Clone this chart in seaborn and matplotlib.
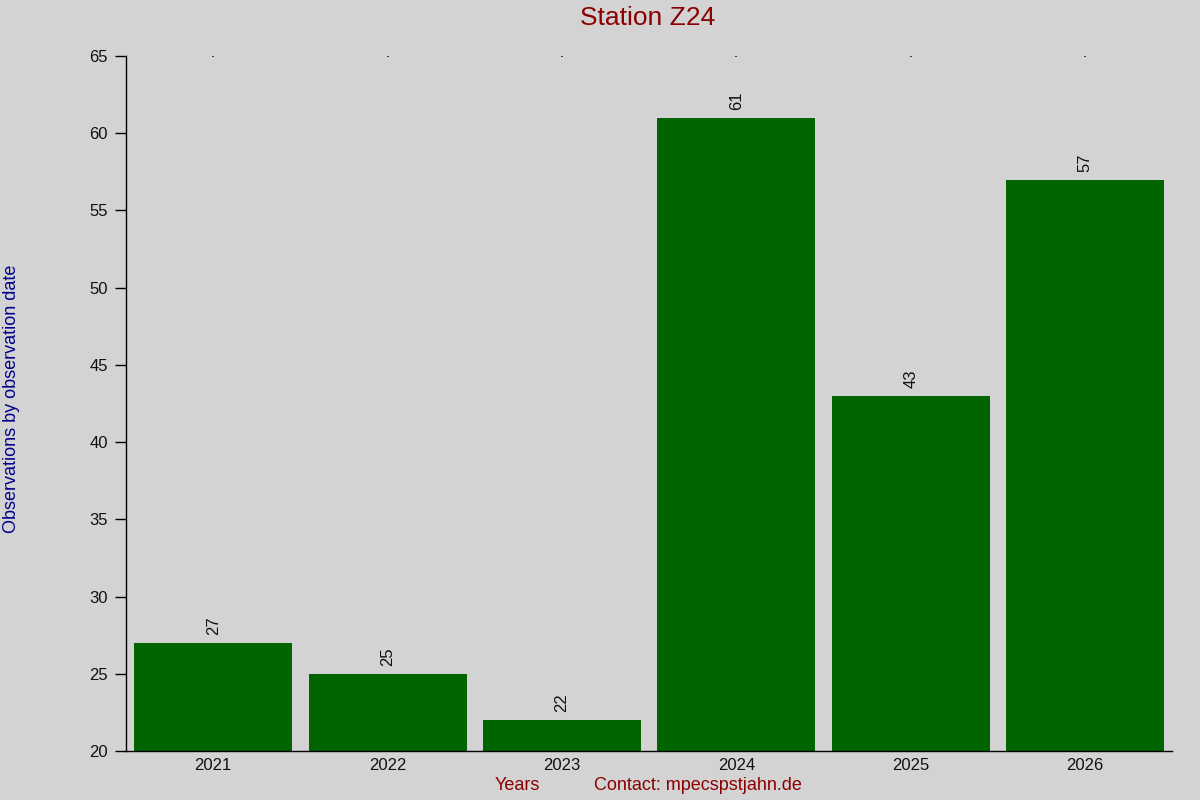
import matplotlib
matplotlib.use("Agg")
import matplotlib.pyplot as plt
import seaborn as sns
import pandas as pd

years = ["2021", "2022", "2023", "2024", "2025", "2026"]
counts = [27, 25, 22, 61, 43, 57]
yticks = [20, 25, 30, 35, 40, 45, 50, 55, 60, 65]

sns.set_theme(style="ticks")
plt.rcParams['font.family'] = ['Liberation Sans', 'DejaVu Sans']

df = pd.DataFrame({"year": years, "count": counts})

fig = plt.figure(figsize=(12, 8), dpi=100, facecolor="#d3d3d3")
ax = fig.add_axes([0.105, 0.06125, 0.872, 0.86875])
ax.set_facecolor("#d3d3d3")

sns.barplot(data=df, x="year", y="count", color="#006400", saturation=1,
            width=0.905, ax=ax)
for p in ax.patches:
    p.set_edgecolor("none")
    p.set_linewidth(0)

ax.set_xlim(-0.5, 5.5)
ax.set_ylim(20, 65)
ax.set_yticks(yticks)
ax.set_yticklabels([str(v) for v in yticks])

for i, v in enumerate(counts):
    ax.text(i, v + 0.5, str(v), rotation=90, ha="center", va="bottom",
            fontsize=12, color="#111111")

for s in ["top", "right"]:
    ax.spines[s].set_visible(False)
for s in ["left", "bottom"]:
    ax.spines[s].set_color("black")
    ax.spines[s].set_linewidth(1)

ax.tick_params(axis="y", length=8, width=1, color="black", labelsize=12,
               labelcolor="#111111", pad=5)
ax.tick_params(axis="x", length=0, labelsize=12, labelcolor="#111111", pad=5,
               top=True, direction="in")
for t in ax.xaxis.get_major_ticks():
    t.tick2line.set_markersize(1)
    t.tick2line.set_visible(True)

ax.set_xlabel("")
ax.set_ylabel("")

fig.text(0.54, 0.977, "Station Z24", ha="center", va="center",
         fontsize=19, color="#8b0000")
fig.text(0.01, 0.502, "Observations by observation date", rotation=90,
         ha="center", va="center", fontsize=13, color="#00008b")
fig.text(0.431, 0.0175, "Years", ha="center", va="center",
         fontsize=13, color="#8b0000")
fig.text(0.5815, 0.0175, "Contact: mpecspstjahn.de", ha="center", va="center",
         fontsize=13, color="#8b0000")

fig.savefig("out.png", dpi=100, facecolor="#d3d3d3")
